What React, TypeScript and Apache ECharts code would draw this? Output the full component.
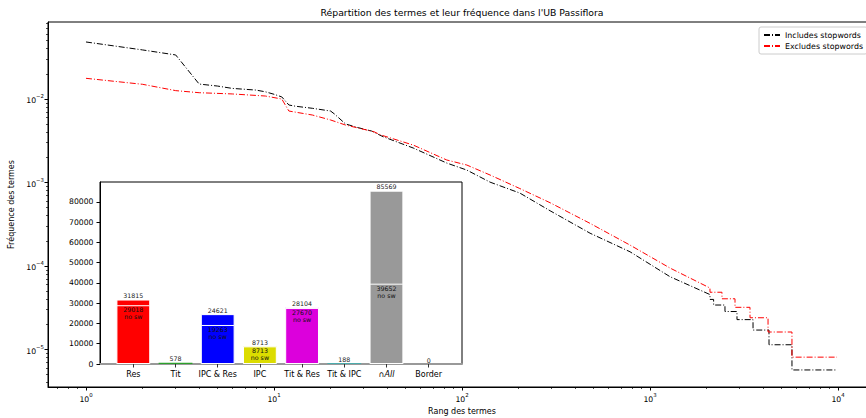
import React, { useEffect, useRef } from 'react';
import * as echarts from 'echarts';

// Rank / frequency — "Includes stopwords"
const rankAll = [1, 2, 3, 4, 5, 6, 8, 9, 10, 11, 12, 13, 16, 20, 21, 24, 28, 33, 38, 55, 83, 106, 141, 203, 294, 480, 783, 1277, 2084, 2085, 2179, 2180, 2504, 2505, 2901, 2902, 3531, 3532, 4294, 4295, 5689, 5690, 9880];
const freqAll = [0.0482, 0.0387, 0.0337, 0.0151, 0.0143, 0.0134, 0.0128, 0.0122, 0.0114, 0.0106, 0.00848, 0.0082, 0.00774, 0.00718, 0.0066, 0.00503, 0.00454, 0.00414, 0.00354, 0.00259, 0.00171, 0.00141, 0.00101, 0.000748, 0.000459, 0.000247, 0.000148, 7.45e-5, 4.55e-5, 3.98e-5, 3.98e-5, 3.41e-5, 3.41e-5, 2.85e-5, 2.85e-5, 2.28e-5, 2.28e-5, 1.71e-5, 1.71e-5, 1.14e-5, 1.14e-5, 5.69e-6, 5.69e-6];

// Rank / frequency — "Excludes stopwords"
const rankEx = [1, 2, 3, 4, 6, 9, 11, 12, 16, 20, 24, 34, 37, 55, 83, 106, 141, 203, 294, 480, 783, 1277, 2084, 2085, 2414, 2415, 2832, 2833, 3403, 3404, 4244, 4245, 5689, 5690, 9880];
const freqEx = [0.0177, 0.015, 0.0126, 0.0119, 0.0115, 0.01086, 0.01, 0.00718, 0.00643, 0.00561, 0.00488, 0.00406, 0.00371, 0.00281, 0.00186, 0.00162, 0.00123, 0.000847, 0.000573, 0.000324, 0.000178, 9.46e-5, 5.45e-5, 4.85e-5, 4.85e-5, 4.05e-5, 4.05e-5, 3.2e-5, 3.2e-5, 2.4e-5, 2.4e-5, 1.62e-5, 1.62e-5, 8.1e-6, 8.1e-6];

// Inset bar chart
const barCategories = ['Res', 'Tit', 'IPC & Res', 'IPC', 'Tit & Res', 'Tit & IPC', '∩All', 'Border'];
const barTotals = [31815, 578, 24621, 8713, 28104, 188, 85569, 0];
const barNoSw: (number | null)[] = [29018, null, 19263, 8713, 27670, null, 39652, null];
const barColors = ['#ff0000', '#2ca02c', '#0000ff', '#dcdc00', '#dc00dc', '#00bfbf', '#999999', '#000000'];
const barTicks = [0, 10000, 20000, 30000, 40000, 50000, 60000, 70000, 80000];

// Axis ticks
const xMajor = [1, 10, 100, 1000, 10000];
const xMinor = [0.7, 0.8, 0.9, 2, 3, 4, 5, 6, 7, 8, 9, 20, 30, 40, 50, 60, 70, 80, 90, 200, 300, 400, 500, 600, 700, 800, 900, 2000, 3000, 4000, 5000, 6000, 7000, 8000, 9000];
const yMajor = [1e-5, 1e-4, 1e-3, 1e-2];
const yMinor = [4e-6, 5e-6, 6e-6, 7e-6, 8e-6, 9e-6, 2e-5, 3e-5, 4e-5, 5e-5, 6e-5, 7e-5, 8e-5, 9e-5, 2e-4, 3e-4, 4e-4, 5e-4, 6e-4, 7e-4, 8e-4, 9e-4, 2e-3, 3e-3, 4e-3, 5e-3, 6e-3, 7e-3, 8e-3, 9e-3, 2e-2, 3e-2, 4e-2, 5e-2, 6e-2, 7e-2, 8e-2];

const FONT = 'DejaVu Sans';

const powLabel = (v: number) => {
  const e = Math.round(Math.log10(v));
  return `{b|10}{s|${e < 0 ? '\u2212' + -e : e}}`;
};
const powRich = {
  b: { fontSize: 7.7, lineHeight: 11, verticalAlign: 'bottom', fontFamily: FONT, color: '#000' },
  s: { fontSize: 5.4, lineHeight: 7, verticalAlign: 'top', fontFamily: FONT, color: '#000' },
};

export default function App() {
  const ref = useRef<HTMLDivElement>(null);
  useEffect(() => {
    if (!ref.current) return;
    const chart = echarts.init(ref.current, undefined, { renderer: 'svg' });
    const X_MIN = 0.628, X_MAX = 15924, Y_MIN = 3.556e-6, Y_MAX = 0.08362;
    const dash = [6, 2, 1, 2];
    chart.setOption({
      animation: false,
      textStyle: { fontFamily: FONT },
      title: {
        text: "Répartition des termes et leur fréquence dans l'UB Passiflora",
        left: 462,
        top: 8,
        padding: 0,
        textAlign: 'center',
        textStyle: { fontSize: 9.3, fontWeight: 'normal', color: '#000', fontFamily: FONT },
      },
      legend: {
        data: ['Includes stopwords', 'Excludes stopwords'],
        orient: 'vertical',
        left: 759,
        top: 27,
        padding: [4, 4, 4, 4],
        itemGap: 3,
        itemWidth: 16,
        itemHeight: 8,
        borderColor: '#cccccc',
        borderWidth: 1,
        borderRadius: 2,
        backgroundColor: '#ffffff',
        itemStyle: { opacity: 0 },
        textStyle: { fontSize: 7.9, color: '#000', fontFamily: FONT },
      },
      grid: [
        { left: 48, top: 22, width: 828, height: 365, show: true, borderColor: '#000', borderWidth: 1, backgroundColor: 'transparent', outerBoundsMode: 'none', containLabel: false },
        { left: 100, top: 182, width: 362, height: 182, show: true, borderColor: '#000', borderWidth: 1, backgroundColor: '#fff', outerBoundsMode: 'none', containLabel: false },
      ],
      xAxis: [
        {
          type: 'log', gridIndex: 0, min: X_MIN, max: X_MAX, position: 'bottom',
          name: 'Rang des termes', nameLocation: 'middle', nameGap: 19,
          nameTextStyle: { fontSize: 8, color: '#000', fontFamily: FONT },
          axisLine: { show: true, lineStyle: { color: '#000', width: 1 } },
          axisTick: { show: true, customValues: xMajor, length: 3.5, lineStyle: { color: '#000' } },
          axisLabel: { customValues: xMajor, formatter: powLabel, rich: powRich, margin: 5 },
          splitLine: { show: false },
        },
        {
          type: 'log', gridIndex: 0, min: X_MIN, max: X_MAX, position: 'bottom', offset: 0,
          axisLine: { show: false },
          axisTick: { show: true, customValues: xMinor, length: 2, lineStyle: { color: '#000', width: 0.7 } },
          axisLabel: { show: false },
          splitLine: { show: false },
        },
        {
          type: 'value', gridIndex: 1, min: -0.79, max: 7.79,
          axisLine: { show: true, onZero: false, lineStyle: { color: '#999999', width: 2 } },
          axisTick: { show: true, customValues: [0, 1, 2, 3, 4, 5, 6, 7], length: 3.5, lineStyle: { color: '#333' } },
          axisLabel: {
            customValues: [0, 1, 2, 3, 4, 5, 6, 7],
            margin: 6,
            formatter: (v: number) => {
              const name = barCategories[Math.round(v)];
              return name === '∩All' ? `{i|${name}}` : `{n|${name}}`;
            },
            rich: {
              n: { fontSize: 8, color: '#000', fontFamily: FONT },
              i: { fontSize: 8, color: '#000', fontFamily: FONT, fontStyle: 'italic' },
            },
          },
          splitLine: { show: false },
        },
      ],
      yAxis: [
        {
          type: 'log', gridIndex: 0, min: Y_MIN, max: Y_MAX, position: 'left',
          name: 'Fréquence des termes', nameLocation: 'middle', nameGap: 27,
          nameTextStyle: { fontSize: 8, color: '#000', fontFamily: FONT },
          axisLine: { show: true, lineStyle: { color: '#000', width: 1 } },
          axisTick: { show: true, customValues: yMajor, length: 3.5, lineStyle: { color: '#000' } },
          axisLabel: { customValues: yMajor, formatter: powLabel, rich: powRich, margin: 4 },
          splitLine: { show: false },
        },
        {
          type: 'log', gridIndex: 0, min: Y_MIN, max: Y_MAX, position: 'left', offset: 0,
          axisLine: { show: false },
          axisTick: { show: true, customValues: yMinor, length: 2, lineStyle: { color: '#000', width: 0.7 } },
          axisLabel: { show: false },
          splitLine: { show: false },
        },
        {
          type: 'value', gridIndex: 1, min: 0, max: 89847,
          axisLine: { show: true, onZero: false, lineStyle: { color: '#000', width: 1 } },
          axisTick: { show: true, customValues: barTicks, length: 3.5, lineStyle: { color: '#000' } },
          axisLabel: { customValues: barTicks, fontSize: 7.7, color: '#000', margin: 6.5, fontFamily: FONT, formatter: (v: number) => String(v) },
          splitLine: { show: false },
        },
      ],
      series: [
        {
          name: 'Includes stopwords', type: 'line', xAxisIndex: 0, yAxisIndex: 0,
          data: rankAll.map((r, i) => [r, freqAll[i]]),
          symbol: 'none', showSymbol: false,
          lineStyle: { color: '#000', width: 1, type: dash },
          itemStyle: { color: '#000' },
        },
        {
          name: 'Excludes stopwords', type: 'line', xAxisIndex: 0, yAxisIndex: 0,
          data: rankEx.map((r, i) => [r, freqEx[i]]),
          symbol: 'none', showSymbol: false,
          lineStyle: { color: '#ff0000', width: 1, type: dash },
          itemStyle: { color: '#ff0000' },
        },
        {
          name: 'total', type: 'bar', xAxisIndex: 2, yAxisIndex: 2,
          barWidth: 33.8, barGap: '-100%',
          data: barTotals.map((v, i) => ({
            value: [i, v],
            itemStyle: { color: barColors[i], borderColor: '#fff', borderWidth: v < 2000 ? 0 : 1 },
          })),
          label: {
            show: true, position: 'top', distance: 1, fontSize: 6.3, color: '#222', fontFamily: FONT,
            formatter: (p: any) => String(p.value[1]),
          },
        },
        {
          name: 'nosw', type: 'bar', xAxisIndex: 2, yAxisIndex: 2,
          barWidth: 33.8, barGap: '-100%',
          data: barNoSw
            .map((v, i) => (v == null ? null : { value: [i, v], itemStyle: { color: barColors[i] } }))
            .filter((d) => d !== null),
          itemStyle: { borderColor: '#fff', borderWidth: 1 },
          label: {
            show: true, position: 'insideTop', distance: 1, fontSize: 6.3, lineHeight: 7, color: '#111', fontFamily: FONT,
            formatter: (p: any) => `${p.value[1]}\nno sw`,
          },
        },
      ],
    });
    return () => chart.dispose();
  }, []);
  return <div ref={ref} style={{ position: 'absolute', left: 0, top: 0, width: 866, height: 418 }} />;
}
